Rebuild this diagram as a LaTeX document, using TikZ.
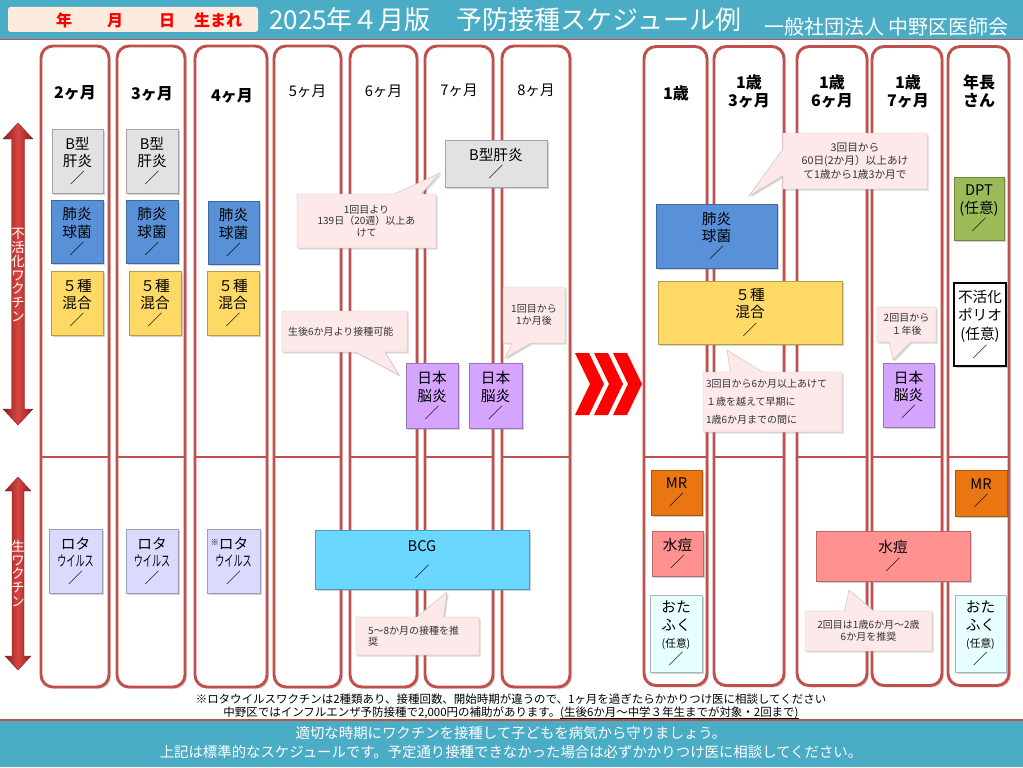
\documentclass[tikz,border=0pt]{standalone}
\usepackage{fontspec}
\setmainfont{Noto Sans CJK JP}
\usepackage{graphicx}
\usetikzlibrary{shapes.callouts,shadows,positioning}

\definecolor{TealBand}{RGB}{75,172,198}
\definecolor{ColRed}{RGB}{192,80,77}
\definecolor{BirthPeach}{RGB}{253,235,222}
\definecolor{HepGray}{RGB}{226,226,226}
\definecolor{PcvBlue}{RGB}{88,145,216}
\definecolor{DtpYellow}{RGB}{255,217,102}
\definecolor{RotaLav}{RGB}{218,218,255}
\definecolor{JePurple}{RGB}{212,164,255}
\definecolor{BcgCyan}{RGB}{105,215,255}
\definecolor{MrOrange}{RGB}{234,118,18}
\definecolor{VarSalmon}{RGB}{255,145,145}
\definecolor{MumpsCyan}{RGB}{232,255,255}
\definecolor{DptGreen}{RGB}{155,187,89}
\definecolor{CalloutPink}{RGB}{253,233,233}
\definecolor{ArrowRed}{RGB}{215,70,65}
\definecolor{ArrowDark}{RGB}{140,30,30}

\newcommand{\NoteUnderline}[1]{\setbox0\hbox{#1}\rlap{\rule[-2pt]{\wd0}{0.7pt}}\box0}

\tikzset
{
  BoxSize/.style 2 args =
  {
    minimum width = #1*0.75pt,
    minimum height = #2*0.75pt,
  },
  ColumnStyle/.style =
  {
    shape = rectangle,
    rounded corners = 9pt,
    draw = ColRed,
    line width = 2.2pt,
    fill = white,
    inner sep = 0pt,
    drop shadow = {shadow xshift=1.5pt, shadow yshift=-1.5pt, opacity=0.3},
  },
  DividerStyle/.style =
  {
    draw = ColRed,
    line width = 2.2pt,
  },
  MonthLabel/.style =
  {
    align = center,
    inner sep = 0pt,
    font = \fontsize{12}{13.5}\selectfont\bfseries,
  },
  MonthLabelThin/.style =
  {
    align = center,
    inner sep = 0pt,
    font = \fontsize{11}{13}\selectfont,
  },
  VaccineStyle/.style =
  {
    shape = rectangle,
    inner sep = 0pt,
    align = center,
    font = \fontsize{11}{13}\selectfont,
    fill = #1,
    draw = #1!72!black,
    line width = 0.6pt,
    drop shadow = {shadow xshift=1.2pt, shadow yshift=-1.2pt, opacity=0.35},
  },
  CalloutStyle/.style =
  {
    rectangle callout,
    inner sep = 0pt,
    fill = CalloutPink,
    draw = CalloutPink!80!black,
    line width = 0.3pt,
    font = \fontsize{7.5}{8.6}\selectfont,
    text = black!80,
    drop shadow = {shadow xshift=1.2pt, shadow yshift=-1.2pt, opacity=0.3},
  },
  ArrowText/.style =
  {
    align = center,
    inner sep = 0pt,
    text = white,
    font = \fontsize{10}{10.3}\selectfont,
  },
  ArrowStyle/.style =
  {
    left color = ArrowDark,
    right color = ArrowDark,
    middle color = ArrowRed,
    draw = ArrowDark,
    line width = 0.3pt,
  },
}

\begin{document}
\begin{tikzpicture}[x=0.75pt, y=-0.75pt]
  \useasboundingbox (0,0) rectangle (1023,767);
  \coordinate (divY) at (0,457);

  % header
  \fill[TealBand] (0,0) rectangle (1023,39);
  \draw[ColRed, line width=0.8pt] (0,39.5) -- (1023,39.5);
  \node[BoxSize={250}{25}, fill=BirthPeach, rounded corners=2pt, inner sep=0pt] (birth) at (133,19.5) {};
  \node[text=red, font=\fontsize{12}{12}\selectfont\bfseries] (byear) at (64,20.5) {年};
  \node[text=red, font=\fontsize{12}{12}\selectfont\bfseries] (bmonth) at (115,20.5) {月};
  \node[text=red, font=\fontsize{12}{12}\selectfont\bfseries] (bday) at (167,20.5) {日};
  \node[text=red, font=\fontsize{12}{12}\selectfont\bfseries] (bborn) at (218,20.5) {生まれ};
  \node[anchor=west, inner sep=0pt, text=white, font=\fontsize{19.5}{21}\selectfont] (title) at (269,20) {2025年４月版　予防接種スケジュール例};
  \node[anchor=west, inner sep=0pt, text=white, font=\fontsize{15}{17}\selectfont] (org) at (764,27) {一般社団法人 中野区医師会};

  % columns
  \node[ColumnStyle, BoxSize={68}{641}] (col2m) at (75,366.5) {};
  \node[ColumnStyle, BoxSize={68}{641}] (col3m) at (151,366.5) {};
  \node[ColumnStyle, BoxSize={72}{641}] (col4m) at (231,366.5) {};
  \node[ColumnStyle, BoxSize={67}{641}] (col5m) at (307.5,366.5) {};
  \node[ColumnStyle, BoxSize={67}{641}] (col6m) at (383.5,366.5) {};
  \node[ColumnStyle, BoxSize={68}{641}] (col7m) at (459,366.5) {};
  \node[ColumnStyle, BoxSize={68}{641}] (col8m) at (536,366.5) {};
  \node[ColumnStyle, BoxSize={63}{639}] (col1y) at (675.5,366) {};
  \node[ColumnStyle, BoxSize={70}{639}] (col1y3m) at (749,366) {};
  \node[ColumnStyle, BoxSize={70}{639}] (col1y6m) at (832,366) {};
  \node[ColumnStyle, BoxSize={70}{639}] (col1y7m) at (907,366) {};
  \node[ColumnStyle, BoxSize={61}{639}] (colK) at (978.5,366) {};

  \draw[DividerStyle] (col2m.west |- divY) -- (col2m.east |- divY);
  \draw[DividerStyle] (col3m.west |- divY) -- (col3m.east |- divY);
  \draw[DividerStyle] (col4m.west |- divY) -- (col4m.east |- divY);
  \draw[DividerStyle] (col5m.west |- divY) -- (col5m.east |- divY);
  \draw[DividerStyle] (col6m.west |- divY) -- (col6m.east |- divY);
  \draw[DividerStyle] (col7m.west |- divY) -- (col7m.east |- divY);
  \draw[DividerStyle] (col8m.west |- divY) -- (col8m.east |- divY);
  \draw[DividerStyle] (col1y.west |- divY) -- (col1y.east |- divY);
  \draw[DividerStyle] (col1y3m.west |- divY) -- (col1y3m.east |- divY);
  \draw[DividerStyle] (col1y6m.west |- divY) -- (col1y6m.east |- divY);
  \draw[DividerStyle] (col1y7m.west |- divY) -- (col1y7m.east |- divY);
  \draw[DividerStyle] (colK.west |- divY) -- (colK.east |- divY);

  % column labels
  \node[MonthLabel] (lab2m) at (75,93) {2ヶ月};
  \node[MonthLabel] (lab3m) at (152,94) {3ヶ月};
  \node[MonthLabel] (lab4m) at (232,96) {4ヶ月};
  \node[MonthLabelThin] (lab5m) at (307.5,91) {5ヶ月};
  \node[MonthLabelThin] (lab6m) at (383.5,91) {6ヶ月};
  \node[MonthLabelThin] (lab7m) at (459,90) {7ヶ月};
  \node[MonthLabelThin] (lab8m) at (536,90) {8ヶ月};
  \node[MonthLabel] (lab1y) at (676,93) {1歳};
  \node[MonthLabel] (lab1y3m) at (749,92) {1歳\\3ヶ月};
  \node[MonthLabel] (lab1y6m) at (832,92) {1歳\\6ヶ月};
  \node[MonthLabel] (lab1y7m) at (908,92) {1歳\\7ヶ月};
  \node[MonthLabel] (labK) at (979,91) {年長\\さん};

  % side arrows
  \draw[ArrowStyle] (18,123) -- (33,139) -- (24.5,139) -- (24.5,409) -- (33,409) -- (18,425)
    -- (3,409) -- (11.5,409) -- (11.5,139) -- (3,139) -- cycle;
  \node[ArrowText] (inact) at (18,275) {不\\活\\化\\ワ\\ク\\チ\\ン};
  \draw[ArrowStyle] (18,477) -- (31,491) -- (24,491) -- (24,656) -- (31,656) -- (18,670)
    -- (5,656) -- (12,656) -- (12,491) -- (5,491) -- cycle;
  \node[ArrowText] (live) at (18,573.5) {生\\ワ\\ク\\チ\\ン};

  % chevrons
  \fill[red] (575,353) -- (589,353) -- (604,384) -- (589,415) -- (575,415) -- (590,384) -- cycle;
  \fill[red] (594,353) -- (608,353) -- (623,384) -- (608,415) -- (594,415) -- (609,384) -- cycle;
  \fill[red] (613,353) -- (627,353) -- (642,384) -- (627,415) -- (613,415) -- (628,384) -- cycle;

  % 2-4 months
  \node[VaccineStyle=HepGray, BoxSize={51}{64}] (hepb2m) at (77.5,161) {B型\\肝炎\\／};
  \node[VaccineStyle=PcvBlue, BoxSize={52}{63}] (pcv2m) at (77,231.5) {肺炎\\球菌\\／};
  \node[VaccineStyle=DtpYellow, BoxSize={52}{64}] (dtp2m) at (77,303) {５種\\混合\\／};
  \node[VaccineStyle=HepGray, BoxSize={52}{64}] (hepb3m) at (152,161) {B型\\肝炎\\／};
  \node[VaccineStyle=PcvBlue, BoxSize={52}{63}] (pcv3m) at (152,231.5) {肺炎\\球菌\\／};
  \node[VaccineStyle=DtpYellow, BoxSize={52}{64}] (dtp3m) at (155,303) {５種\\混合\\／};
  \node[VaccineStyle=PcvBlue, BoxSize={51}{63}] (pcv4m) at (233.5,232.5) {肺炎\\球菌\\／};
  \node[VaccineStyle=DtpYellow, BoxSize={52}{64}] (dtp4m) at (233,303) {５種\\混合\\／};
  \node[VaccineStyle=RotaLav, BoxSize={53}{64}] (rota2m) at (75.5,561) {ロタ\\\scalebox{0.62}[1]{ウイルス}\\／};
  \node[VaccineStyle=RotaLav, BoxSize={52}{64}] (rota3m) at (152,561) {ロタ\\\scalebox{0.62}[1]{ウイルス}\\／};
  \node[VaccineStyle=RotaLav, BoxSize={53}{64}] (rota4m) at (233.5,561) {\llap{\raisebox{0.5ex}{\fontsize{6}{6}\selectfont ※}}ロタ\\\scalebox{0.62}[1]{ウイルス}\\／};

  % 5-8 months
  \node[VaccineStyle=HepGray, BoxSize={102}{47}] (hepb3rd) at (496,163.5) {B型肝炎\\／};
  \node[VaccineStyle=JePurple, BoxSize={52}{65}] (je6m) at (432,395.5) {日本\\脳炎\\／};
  \node[VaccineStyle=JePurple, BoxSize={53}{65}] (je7m) at (495.5,395.5) {日本\\脳炎\\／};
  \node[VaccineStyle=BcgCyan, BoxSize={214}{59}, font=\fontsize{11}{20}\selectfont] (bcg) at (422,559.5) {BCG\\／};

  \node[CalloutStyle, BoxSize={139}{54}, callout absolute pointer={(440,173)}, callout pointer width=20pt, align=center] (noteHepb) at (366.5,221) {1回目より\\139日（20週）以上あ\\けて};
  \node[CalloutStyle, BoxSize={125}{41}, callout absolute pointer={(399,375)}, callout pointer width=22pt, align=left, text width=113*0.75pt] (noteJe) at (344.5,331.5) {生後6か月より接種可能};
  \node[CalloutStyle, BoxSize={62}{56}, callout absolute pointer={(505,358)}, callout pointer width=14pt, align=center] (noteJe2) at (534,315) {1回目から\\1か月後};
  \node[CalloutStyle, BoxSize={123}{38}, callout absolute pointer={(447,592)}, callout pointer width=20pt, align=left, text width=99*0.75pt] (noteBcg) at (417.5,636) {5〜8か月の接種を推\\奨};

  % 1 year and later
  \node[VaccineStyle=PcvBlue, BoxSize={121}{64}] (pcv1y) at (716.5,236) {肺炎\\球菌\\／};
  \node[VaccineStyle=DtpYellow, BoxSize={184}{63}] (dtp1y) at (750,312.5) {５種\\混合\\／};
  \node[VaccineStyle=JePurple, BoxSize={51}{64}] (je1y7m) at (908.5,395) {日本\\脳炎\\／};
  \node[VaccineStyle=DptGreen, BoxSize={50}{63}] (dptK) at (979,208.5) {DPT\\(任意)\\／};
  \node[VaccineStyle=white, draw=black, line width=1pt, BoxSize={52}{83}, font=\fontsize{11}{13.6}\selectfont] (ipvK) at (980,324.5) {不活化\\ポリオ\\(任意)\\／};
  \node[VaccineStyle=MrOrange, BoxSize={51}{45}] (mr1y) at (676.5,492.5) {MR\\／};
  \node[VaccineStyle=MrOrange, BoxSize={52}{46}] (mrK) at (981,493) {MR\\／};
  \node[VaccineStyle=VarSalmon, BoxSize={51}{45}] (var1y) at (677.5,553.5) {水痘\\／};
  \node[VaccineStyle=VarSalmon, BoxSize={154}{50}] (var2nd) at (893,556) {水痘\\／};
  \node[VaccineStyle=MumpsCyan, BoxSize={52}{77}] (mumps1y) at (676,633.5) {おた\\ふく\\{\fontsize{8}{12}\selectfont (任意)}\\／};
  \node[VaccineStyle=MumpsCyan, BoxSize={51}{77}] (mumpsK) at (980.5,633.5) {おた\\ふく\\{\fontsize{8}{12}\selectfont (任意)}\\／};

  \node[CalloutStyle, BoxSize={144}{56}, callout absolute pointer={(749,196)}, callout pointer width=20pt, align=center, font=\fontsize{8}{10}\selectfont] (notePcv) at (855,161) {3回目から\\60日(2か月）以上あけ\\て1歳から1歳3か月で};
  \node[CalloutStyle, BoxSize={139}{60}, callout absolute pointer={(727,350)}, callout pointer width=24pt, align=left, text width=133*0.75pt, font=\fontsize{7.5}{13.5}\selectfont] (noteDtp) at (772.5,402) {3回目から6か月以上あけて\\１歳を越えて早期に\\1歳6か月までの間に};
  \node[CalloutStyle, BoxSize={59}{35}, callout absolute pointer={(893,360)}, callout pointer width=16pt, align=center, font=\fontsize{7.5}{10}\selectfont] (noteJe3) at (906.5,324.5) {2回目から\\１年後};
  \node[CalloutStyle, BoxSize={127}{40}, callout absolute pointer={(849,590)}, callout pointer width=22pt, align=center, font=\fontsize{7.5}{9}\selectfont] (noteVar) at (868.5,631) {2回目は1歳6か月〜2歳\\6か月を推奨};

  % notes and footer
  \fill[TealBand] (0,720) rectangle (1023,767);
  \draw[ColRed, line width=0.8pt] (0,720) -- (1023,720);
  \node[align=center, inner sep=0pt, font=\fontsize{8.6}{9.75}\selectfont] (notes) at (511,706) {※ロタウイルスワクチンは2種類あり、接種回数、開始時期が違うので、1ヶ月を過ぎたらかかりつけ医に相談してください\\中野区ではインフルエンザ予防接種で2,000円の補助があります。\NoteUnderline{(生後6か月〜中学３年生までが対象・2回まで)}};
  \node[align=center, inner sep=0pt, text=white, font=\fontsize{10.8}{14}\selectfont] (footer) at (511,742.5) {適切な時期にワクチンを接種して子どもを病気から守りましょう。\\上記は標準的なスケジュールです。予定通り接種できなかった場合は必ずかかりつけ医に相談してください。};
\end{tikzpicture}
\end{document}
